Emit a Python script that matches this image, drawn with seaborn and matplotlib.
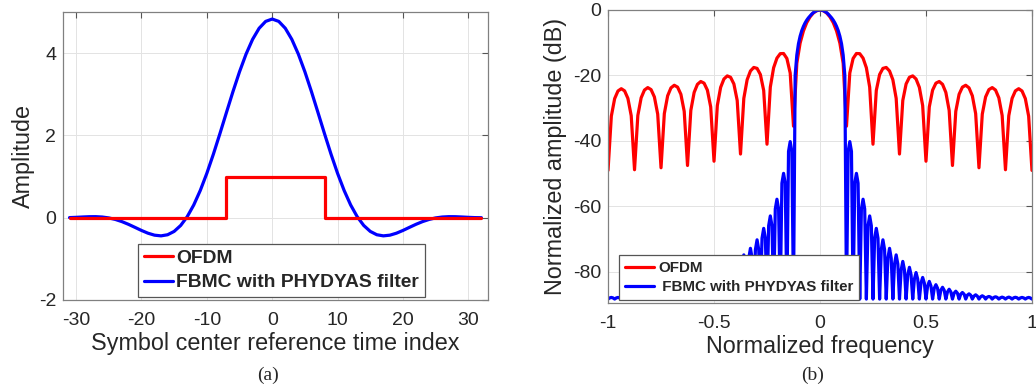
import numpy as np
import pandas as pd
import matplotlib
matplotlib.use('Agg')
import matplotlib.pyplot as plt
import seaborn as sns
from matplotlib.ticker import FuncFormatter

# ---- panel (a): time domain pulses ----
time_index = list(range(-31, 33))
ofdm_amp = [0] * 24 + [1] * 15 + [0] * 25
fbmc_amp = [0.0025, 0.0090, 0.0173, 0.0241, 0.0252, 0.0166, -0.0051, -0.0420, -0.0944, -0.1599,
            -0.2340, -0.3094, -0.3766, -0.4245, -0.4411, -0.4142, -0.3330, -0.1886, 0.0249, 0.3094,
            0.6627, 1.0775, 1.5426, 2.0420, 2.5569, 3.0658, 3.5462, 3.9759, 4.3345, 4.6042, 4.7716,
            4.8284,
            4.7716, 4.6042, 4.3345, 3.9759, 3.5462, 3.0658, 2.5569, 2.0420, 1.5426, 1.0775,
            0.6627, 0.3094, 0.0249, -0.1886, -0.3330, -0.4142, -0.4411, -0.4245, -0.3766, -0.3094,
            -0.2340, -0.1599, -0.0944, -0.0420, -0.0051, 0.0166, 0.0252, 0.0241, 0.0173, 0.0090,
            0.0025, 0.0]

# ---- panel (b): spectra, positive half (symmetric) ----
ofdm_freq_half = np.linspace(0, 1, 65)
ofdm_db_half = [0.0, -0.22, -0.91, -2.10, -3.85, -6.4, -10.1, -16.3, -35.5,
                -19.24, -14.80, -13.29, -13.34, -14.70, -17.64, -23.55, -41.0,
                -24.58, -19.71, -17.83, -17.55, -18.63, -21.31, -26.99, -44.0,
                -27.63, -22.59, -20.55, -20.13, -21.07, -23.63, -29.19, -46.2,
                -29.61, -24.48, -22.35, -21.84, -22.70, -25.18, -30.67, -47.5,
                -30.95, -25.75, -23.56, -22.99, -23.79, -26.21, -31.64, -48.2,
                -31.82, -26.56, -24.32, -23.70, -24.45, -26.82, -32.21, -48.8,
                -32.29, -27.00, -24.70, -24.04, -24.74, -27.07, -32.42, -49.0]

fbmc_freq_half = np.linspace(0, 1, 129)
fbmc_db_half = [0.0, -0.05, -0.2, -0.45, -0.8, -1.25, -1.8, -2.4, -3.1, -3.95, -5.0, -6.3, -8.0,
                -10.3, -13.8, -20.0, -88.3,
                -43.2, -40.2, -43.2, -88.3,
                -52.9, -49.9, -52.9, -88.3,
                -60.8, -57.8, -60.8, -88.3,
                -65.9, -62.9, -65.9, -88.3,
                -69.7, -66.7, -69.7, -88.3,
                -73.2, -70.2, -73.2, -88.3,
                -75.8, -72.8, -75.8, -88.3,
                -77.6, -74.8, -77.6, -88.3,
                -79.4, -76.8, -79.4, -88.3,
                -80.9, -78.6, -80.9, -88.3,
                -82.2, -80.2, -82.2, -88.3,
                -83.4, -81.7, -83.4, -88.3,
                -84.3, -82.9, -84.3, -88.3,
                -85.0, -83.9, -85.0, -88.3,
                -85.6, -84.7, -85.6, -88.3,
                -86.1, -85.3, -86.1, -88.3,
                -86.5, -85.9, -86.5, -88.3,
                -86.8, -86.3, -86.8, -88.3,
                -87.1, -86.7, -87.1, -88.3,
                -87.4, -87.0, -87.4, -88.3,
                -87.6, -87.3, -87.6, -88.3,
                -87.7, -87.5, -87.7, -88.3,
                -87.8, -87.6, -87.8, -88.3,
                -87.9, -87.7, -87.9, -88.3,
                -87.9, -87.7, -87.9, -88.3,
                -87.9, -87.75, -87.9, -88.3,
                -87.95, -87.8, -87.95, -88.3,
                -87.95, -87.8, -87.95, -88.3]

labels = ['OFDM', 'FBMC with PHYDYAS filter']


def mirror(freq, vals):
    freq = np.asarray(freq)
    vals = np.asarray(vals)
    return (np.concatenate([-freq[:0:-1], freq]),
            np.concatenate([vals[:0:-1], vals]))


def style_axes(ax, fontsize):
    ax.grid(True, color='#e3e3e3', linewidth=0.7)
    ax.set_axisbelow(True)
    for sp in ax.spines.values():
        sp.set_visible(True)
        sp.set_color('#808080')
        sp.set_linewidth(0.9)
    ax.tick_params(direction='in', length=4, width=0.8, color='#555555',
                   top=True, right=True, labelsize=fontsize, labelcolor='#262626')
    ax.tick_params(axis='x', pad=9)
    ax.tick_params(axis='y', pad=5)
    ax.xaxis.set_major_formatter(FuncFormatter(lambda v, p: '%g' % v))
    ax.yaxis.set_major_formatter(FuncFormatter(lambda v, p: '%g' % v))


def main():
    sns.set_theme(style='white')
    plt.rcParams['font.family'] = ['Liberation Sans', 'DejaVu Sans']
    plt.rcParams['axes.unicode_minus'] = False

    fig = plt.figure(figsize=(10.36, 3.89), dpi=100)
    ax1 = fig.add_axes([0.0608, 0.2288, 0.4102, 0.7404])
    ax2 = fig.add_axes([0.5869, 0.2211, 0.4092, 0.7532])

    # panel (a)
    time_df = pd.DataFrame({'n': time_index, 'ofdm': ofdm_amp, 'fbmc': fbmc_amp})
    sns.lineplot(data=time_df, x='n', y='fbmc', ax=ax1, color='#0000ff', linewidth=2.3,
                 estimator=None, zorder=2)
    sns.lineplot(data=time_df, x='n', y='ofdm', ax=ax1, color='#ff0000', linewidth=2.3,
                 estimator=None, drawstyle='steps-post', zorder=3)
    ax1.set_xlim(-32, 33)
    ax1.set_ylim(-2, 5)
    ax1.set_xticks([-30, -20, -10, 0, 10, 20, 30])
    ax1.set_yticks([-2, 0, 2, 4])
    style_axes(ax1, 14)
    ax1.set_xlabel('Symbol center reference time index', fontsize=16.8, labelpad=2, color='#262626')
    ax1.set_ylabel('Amplitude', fontsize=16.8, labelpad=3, color='#262626')
    lines = ax1.get_lines()
    leg1 = ax1.legend([lines[1], lines[0]], labels, loc='lower left', bbox_to_anchor=(0.176, 0.01),
                      borderaxespad=0, fancybox=False, framealpha=1, edgecolor='#555555',
                      prop={'weight': 'bold', 'size': 13.9}, handlelength=1.55,
                      handletextpad=0.15, borderpad=0.3, labelspacing=0.35)
    leg1.get_frame().set_linewidth(0.9)

    # panel (b)
    of, od = mirror(ofdm_freq_half, ofdm_db_half)
    ff, fd = mirror(fbmc_freq_half, fbmc_db_half)
    ofdm_df = pd.DataFrame({'f': of, 'db': od})
    fbmc_df = pd.DataFrame({'f': ff, 'db': fd})
    sns.lineplot(data=ofdm_df, x='f', y='db', ax=ax2, color='#ff0000', linewidth=2.3,
                 estimator=None, sort=False)
    sns.lineplot(data=fbmc_df, x='f', y='db', ax=ax2, color='#0000ff', linewidth=2.3,
                 estimator=None, sort=False)
    ax2.set_xlim(-1, 1)
    ax2.set_ylim(-89.5, 0)
    ax2.set_xticks([-1, -0.5, 0, 0.5, 1])
    ax2.set_yticks([-80, -60, -40, -20, 0])
    style_axes(ax2, 14)
    ax2.set_xlabel('Normalized frequency', fontsize=16.8, labelpad=2, color='#262626')
    ax2.set_ylabel('Normalized amplitude (dB)', fontsize=16.8, labelpad=4, color='#262626')
    lines = ax2.get_lines()
    leg2 = ax2.legend([lines[0], lines[1]], [labels[0], ' ' + labels[1]], loc='lower left',
                      bbox_to_anchor=(0.026, 0.01), borderaxespad=0, fancybox=False,
                      framealpha=1, edgecolor='#555555',
                      prop={'weight': 'bold', 'size': 10.9}, handlelength=1.9,
                      handletextpad=0.27, borderpad=0.4, labelspacing=0.32)
    leg2.get_frame().set_linewidth(0.9)

    fig.text(268 / 1036, 1 - 375 / 389, '(a)', ha='center', va='center', fontsize=14,
             family=['Liberation Serif', 'DejaVu Serif'], color='#262626')
    fig.text(813 / 1036, 1 - 375 / 389, '(b)', ha='center', va='center', fontsize=14,
             family=['Liberation Serif', 'DejaVu Serif'], color='#262626')

    fig.savefig('out.png', dpi=100)


if __name__ == '__main__':
    main()
